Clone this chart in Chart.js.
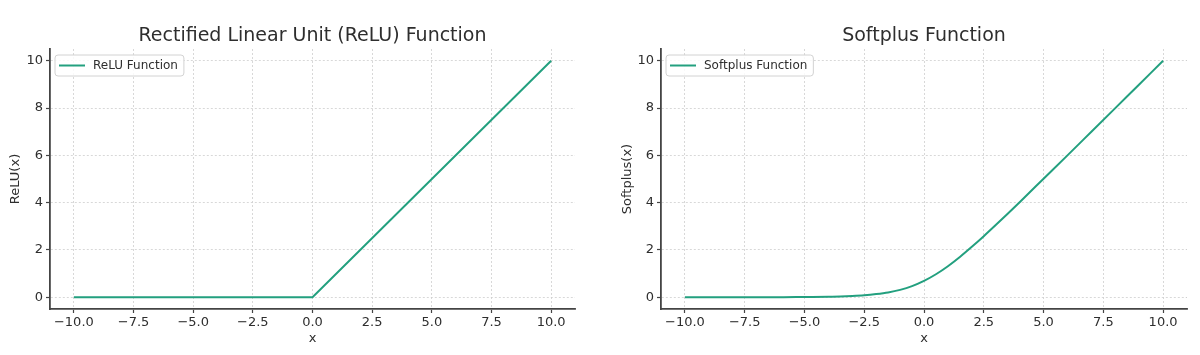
<!DOCTYPE html>
<html>
<head>
<meta charset="utf-8">
<script src="https://cdn.jsdelivr.net/npm/chart.js@4"></script>
<style>
  html, body { margin: 0; padding: 0; background: #ffffff; }
  #wrap { position: relative; width: 1200px; height: 355px; }
  canvas { position: absolute; top: 0; }
</style>
</head>
<body>
<div id="wrap">
  <canvas id="c1" width="600" height="355" style="left:0"></canvas>
  <canvas id="c2" width="600" height="355" style="left:600px"></canvas>
</div>
<script>
// ---- data ----
const xTickValues = [-10, -7.5, -5, -2.5, 0, 2.5, 5, 7.5, 10];
const xTickLabels = ['−10.0', '−7.5', '−5.0', '−2.5', '0.0', '2.5', '5.0', '7.5', '10.0'];
const yTickValues = [0, 2, 4, 6, 8, 10];
const yTickLabels = ['0', '2', '4', '6', '8', '10'];

const reluX = [-10, 0, 10];
const reluY = [0, 0, 10];

const softplusX = [-10, -9, -8, -7, -6, -5, -4, -3.5, -3, -2.5, -2, -1.5, -1, -0.5, 0, 0.5, 1, 1.5, 2, 2.5, 3, 3.5, 4, 5, 6, 7, 8, 9, 10];
const softplusY = [0.00, 0.00, 0.00, 0.00, 0.00, 0.01, 0.02, 0.03, 0.05, 0.08, 0.13, 0.20, 0.31, 0.47, 0.69, 0.97, 1.31, 1.70, 2.13, 2.58, 3.05, 3.53, 4.02, 5.01, 6.00, 7.00, 8.00, 9.00, 10.00];

const FONT = 'DejaVu Sans';
const LINE_COLOR = '#23a07f';
const TEXT_COLOR = '#2e2e2e';
const AXIS_COLOR = '#444';
const GRID_COLOR = '#cfcfcf';

const legendInside = {
  id: 'legendInside',
  afterDraw(chart) {
    const ctx = chart.ctx;
    const a = chart.chartArea;
    const ds = chart.data.datasets[0];
    ctx.save();
    ctx.font = '12px "' + FONT + '"';
    const tw = ctx.measureText(ds.label).width;
    const x = a.left + 5, y = a.top + 6, w = tw + 44, h = 21;
    ctx.beginPath();
    if (ctx.roundRect) ctx.roundRect(x, y, w, h, 3); else ctx.rect(x, y, w, h);
    ctx.fillStyle = 'rgba(255,255,255,0.85)';
    ctx.fill();
    ctx.strokeStyle = '#d2d2d2';
    ctx.lineWidth = 1;
    ctx.stroke();
    ctx.beginPath();
    ctx.moveTo(x + 4, y + h / 2);
    ctx.lineTo(x + 30, y + h / 2);
    ctx.strokeStyle = ds.borderColor;
    ctx.lineWidth = 2;
    ctx.stroke();
    ctx.fillStyle = TEXT_COLOR;
    ctx.textBaseline = 'middle';
    ctx.textAlign = 'left';
    ctx.fillText(ds.label, x + 38, y + h / 2 + 0.5);
    ctx.restore();
  }
};

function makeChart(id, opts) {
  const points = opts.xs.map((x, i) => ({ x: x, y: opts.ys[i] }));
  return new Chart(document.getElementById(id), {
    type: 'line',
    data: {
      datasets: [{
        label: opts.legend,
        data: points,
        borderColor: LINE_COLOR,
        borderWidth: 2,
        pointRadius: 0,
        fill: false,
        tension: 0,
        cubicInterpolationMode: opts.smooth ? 'monotone' : 'default'
      }]
    },
    options: {
      responsive: false,
      animation: false,
      devicePixelRatio: 1,
      layout: { padding: { left: 0, right: 600 - opts.areaRight, top: 0, bottom: 0 } },
      plugins: {
        legend: { display: false },
        tooltip: { enabled: false },
        title: {
          display: true,
          text: opts.title,
          fullSize: false,
          color: TEXT_COLOR,
          font: { family: FONT, size: 19, weight: 'normal' },
          padding: { top: 25, bottom: 1.2 }
        }
      },
      scales: {
        x: {
          type: 'linear',
          min: -11, max: 11,
          afterBuildTicks: s => { s.ticks = xTickValues.map(v => ({ value: v })); },
          afterFit: s => { s.height = 46; },
          ticks: {
            autoSkip: false, maxRotation: 0, padding: 2,
            color: TEXT_COLOR,
            font: { family: FONT, size: 13 },
            callback: v => xTickLabels[xTickValues.indexOf(v)]
          },
          grid: { color: GRID_COLOR, lineWidth: 0.8, tickLength: 4, tickColor: AXIS_COLOR, tickWidth: 1.2 },
          border: { display: true, color: AXIS_COLOR, width: 1.8, dash: [2, 2] },
          title: { display: true, text: 'x', color: TEXT_COLOR, font: { family: FONT, size: 13 }, padding: { top: 0, bottom: 9 } }
        },
        y: {
          type: 'linear',
          min: -0.5, max: 10.5,
          afterBuildTicks: s => { s.ticks = yTickValues.map(v => ({ value: v })); },
          afterFit: s => { s.width = opts.areaLeft; },
          ticks: {
            autoSkip: false, padding: 3,
            color: TEXT_COLOR,
            font: { family: FONT, size: 13 },
            callback: v => yTickLabels[yTickValues.indexOf(v)]
          },
          grid: { color: GRID_COLOR, lineWidth: 0.8, tickLength: 4, tickColor: AXIS_COLOR, tickWidth: 1.2 },
          border: { display: true, color: AXIS_COLOR, width: 1.8, dash: [2, 2] },
          title: { display: true, text: opts.yLabel, color: TEXT_COLOR, font: { family: FONT, size: 13 }, padding: { top: opts.yTitlePad, bottom: 0 } }
        }
      }
    },
    plugins: [legendInside]
  });
}

makeChart('c1', {
  title: 'Rectified Linear Unit (ReLU) Function',
  yLabel: 'ReLU(x)', legend: 'ReLU Function',
  xs: reluX, ys: reluY, areaLeft: 50, areaRight: 575, yTitlePad: 8, smooth: false
});
makeChart('c2', {
  title: 'Softplus Function',
  yLabel: 'Softplus(x)', legend: 'Softplus Function',
  xs: softplusX, ys: softplusY, areaLeft: 61, areaRight: 587, yTitlePad: 20, smooth: true
});
</script>
</body>
</html>
